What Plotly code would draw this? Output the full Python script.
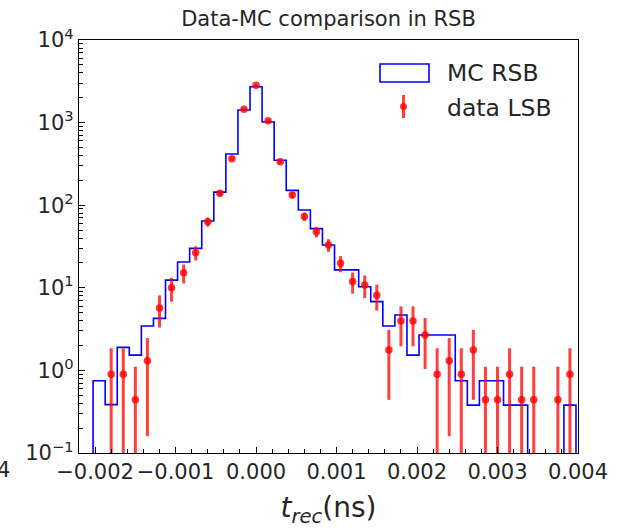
import plotly.graph_objects as go

# Histogram binning: bins of width 0.00015 centred on multiples of the width
BIN_WIDTH = 0.00015
mc_bin_index = list(range(-14, 27))
mc_counts = [0.0, 0.75, 0.385, 1.9, 1.53, 3.45, 4.27, 12.4, 20.5, 30.0,
             64.4, 144.0, 417.0, 1422.0, 2720.0, 1016.0, 350.0, 151.0, 87.5, 52.0,
             33.0, 16.5, 16.5, 10.3, 6.8, 3.45, 4.69, 1.53, 2.68, 2.68,
             2.68, 0.75, 0.38, 0.75, 0.75, 0.38, 0.38, 0.0, 0.0, 0.0,
             0.38]

data_bin_index = [-12, -11, -10, -9, -8, -7, -6, -5, -4, -3,
                  -2, -1, 0, 1, 2, 3, 4, 5, 6, 7,
                  8, 9, 10, 11, 12, 13, 14, 15, 16, 17,
                  18, 19, 20, 21, 22, 23, 25, 26]
data_values = [0.90, 0.90, 0.44, 1.31, 5.7, 10.0, 15.2, 26.6, 63.0, 140.0,
               366.0, 1450.0, 2825.0, 1055.0, 336.0, 133.0, 73.0, 47.7, 33.0, 19.8,
               11.9, 10.8, 8.1, 1.77, 3.96, 3.96, 2.68, 0.90, 1.31, 0.90,
               1.77, 0.44, 0.44, 0.90, 0.44, 0.44, 0.44, 0.90]
data_errors = [0.95, 0.95, 0.67, 1.15, 2.4, 3.2, 3.9, 5.2, 8.0, 12.0,
               19.0, 38.0, 53.0, 32.0, 18.0, 11.5, 8.5, 6.9, 5.7, 4.4,
               3.4, 3.3, 2.8, 1.33, 2.0, 2.0, 1.64, 0.95, 1.15, 0.95,
               1.33, 0.67, 0.67, 0.95, 0.67, 0.67, 0.67, 0.95]

x_tick_values = [-0.002, -0.001, 0.0, 0.001, 0.002, 0.003, 0.004]
y_tick_values = [0.1, 1, 10, 100, 1000, 10000]
y_tick_labels = ["10<sup>\u22121</sup>", "10<sup>0</sup>", "10<sup>1</sup>",
                 "10<sup>2</sup>", "10<sup>3</sup>", "10<sup>4</sup>"]

X_RANGE = [-0.0022, 0.0040001]
Y_LOG_RANGE = [-1, 4]
FLOOR = 1e-3  # below the visible range: empty bins drop to the axis

TEXT = "#262626"
FONT = "DejaVu Sans"

# step outline of the MC histogram
step_x, step_y = [], []
first_left = (mc_bin_index[0] - 0.5) * BIN_WIDTH
step_x.append(first_left)
step_y.append(FLOOR)
for k, v in zip(mc_bin_index, mc_counts):
    step_x.append((k - 0.5) * BIN_WIDTH)
    step_y.append(v if v > 0 else FLOOR)
last_right = (mc_bin_index[-1] + 0.5) * BIN_WIDTH
step_x.append(last_right)
step_y.append(step_y[-1])
step_x.append(last_right)
step_y.append(FLOOR)

data_x = [k * BIN_WIDTH for k in data_bin_index]
err_minus = [min(e, v - FLOOR) for v, e in zip(data_values, data_errors)]

# log-axis minor ticks at 2..9 of each decade
minor_y = [m * 10.0 ** e for e in range(Y_LOG_RANGE[0], Y_LOG_RANGE[1]) for m in range(2, 10)]

fig = go.Figure()
fig.add_trace(go.Scatter(
    x=step_x, y=step_y, mode="lines", line_shape="hv",
    line=dict(color="blue", width=1.6), name="MC RSB", showlegend=False,
))
fig.add_trace(go.Scatter(
    x=data_x, y=data_values, mode="markers", name="data LSB", showlegend=False,
    marker=dict(color="rgba(255,0,0,0.8)", size=7.5),
    error_y=dict(type="data", array=data_errors, arrayminus=err_minus,
                 symmetric=False, color="rgba(255,0,0,0.75)", thickness=3, width=0),
))

fig.update_layout(
    width=633, height=530,
    margin=dict(l=79, r=55, t=40, b=77),
    paper_bgcolor="white", plot_bgcolor="white",
    font=dict(family=FONT, color=TEXT, size=21),
    title=dict(text="Data-MC comparison in RSB", x=(79 + 578) / 2 / 633, xanchor="center",
               y=1 - 19 / 530, yanchor="middle", yref="container",
               font=dict(size=21, color=TEXT, family=FONT)),
)

fig.update_xaxes(
    range=X_RANGE, tickvals=x_tick_values, tickformat=".3f", tickangle=0,
    automargin=False,
    ticks="inside", ticklen=6, tickwidth=1.2, tickcolor="black",
    minor=dict(ticks="inside", ticklen=3.5, tickwidth=1, tickcolor="black", dtick=0.0002),
    showline=True, linecolor="black", linewidth=1.3, mirror=True,
    showgrid=False, zeroline=False,
    tickfont=dict(size=21, color=TEXT),
    title=dict(text="<i>t</i><sub><i>rec</i></sub>(ns)", font=dict(size=28, color=TEXT), standoff=14),
)
fig.update_yaxes(
    type="log", range=Y_LOG_RANGE, tickvals=y_tick_values, ticktext=y_tick_labels,
    automargin=False,
    ticks="inside", ticklen=6, tickwidth=1.2, tickcolor="black",
    minor=dict(ticks="inside", ticklen=3.5, tickwidth=1, tickcolor="black", tickvals=minor_y),
    showline=True, linecolor="black", linewidth=1.3, mirror=True,
    showgrid=False, zeroline=False,
    tickfont=dict(size=21, color=TEXT),
)

# legend drawn by hand: outlined box for the histogram, bar with dot for the data
pw, ph = 578 - 79, 453 - 40


def px_x(p):
    return (p - 79) / pw


def px_y(p):
    return (453 - p) / ph


fig.add_shape(type="rect", xref="paper", yref="paper",
              x0=px_x(380), x1=px_x(429), y0=px_y(82), y1=px_y(64),
              line=dict(color="blue", width=1.6), fillcolor="rgba(0,0,0,0)")
fig.add_shape(type="line", xref="paper", yref="paper",
              x0=px_x(403.5), x1=px_x(403.5), y0=px_y(118), y1=px_y(95),
              line=dict(color="rgba(255,0,0,0.75)", width=3))
fig.add_shape(type="circle", xref="paper", yref="paper",
              x0=px_x(400), x1=px_x(407), y0=px_y(110), y1=px_y(103),
              line=dict(color="rgba(255,0,0,0.8)", width=0), fillcolor="rgba(255,0,0,0.8)")
fig.add_annotation(text="MC RSB", xref="paper", yref="paper", x=px_x(445), y=px_y(73),
                   xanchor="left", yanchor="middle", showarrow=False,
                   font=dict(size=23.5, color=TEXT))
fig.add_annotation(text="data LSB", xref="paper", yref="paper", x=px_x(445), y=px_y(108),
                   xanchor="left", yanchor="middle", showarrow=False,
                   font=dict(size=23.5, color=TEXT))
fig.add_annotation(text="4", xref="paper", yref="paper", x=px_x(12), y=px_y(470),
                   xanchor="right", yanchor="middle", showarrow=False,
                   font=dict(size=21, color=TEXT))

fig.write_html("out.html")
